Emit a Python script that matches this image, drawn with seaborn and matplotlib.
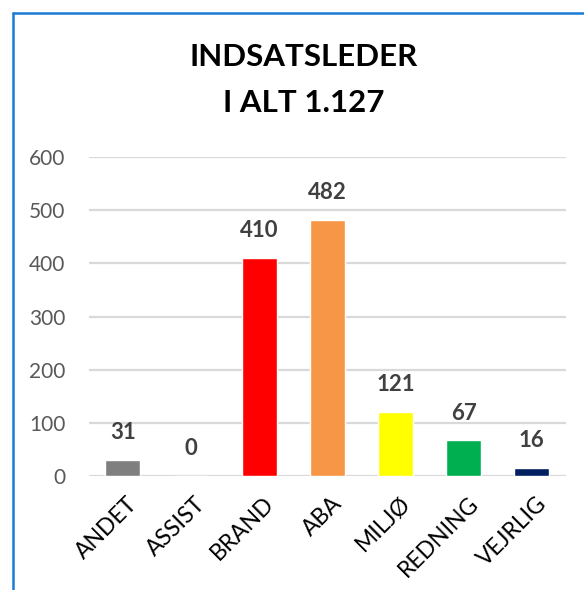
import matplotlib
matplotlib.use("Agg")
import matplotlib.pyplot as plt
import matplotlib.transforms as mtrans
import seaborn as sns
import pandas as pd
from matplotlib.lines import Line2D

# data
categories = ["ANDET", "ASSIST", "BRAND", "ABA", "MILJØ", "REDNING", "VEJRLIG"]
values = [31, 0, 410, 482, 121, 67, 16]
bar_colors = ["#7F7F7F", "#A5A5A5", "#FF0000", "#F79646", "#FFFF00", "#00B050", "#002060"]
title_lines = ["INDSATSLEDER", "I ALT 1.127"]
yticks = [0, 100, 200, 300, 400, 500, 600]

df = pd.DataFrame({"cat": categories, "val": values})

sns.set_theme(style="white")
plt.rcParams["font.family"] = ["Lato", "DejaVu Sans"]

fig = plt.figure(figsize=(5.84, 5.90), dpi=100)
ax = fig.add_axes([0.152, 0.193, 0.817, 0.541])

sns.barplot(data=df, x="cat", y="val", hue="cat", palette=bar_colors,
            legend=False, width=0.51, saturation=1, ax=ax)

for i, v in enumerate(values):
    ax.annotate(str(v), (i, v), xytext=(0, 12), textcoords="offset points",
                ha="center", va="bottom", fontsize=16, fontweight="bold",
                color="#404040")

ax.set_ylim(0, 600)
ax.set_yticks(yticks)
ax.set_xlim(-0.5, len(categories) - 0.5)
ax.yaxis.grid(True, color="#D9D9D9", linewidth=1.6)
ax.set_axisbelow(True)
for s in ax.spines.values():
    s.set_visible(False)
ax.set_xlabel("")
ax.set_ylabel("")
ax.tick_params(axis="y", length=0, labelsize=15, labelcolor="#595959", pad=17)
ax.tick_params(axis="x", length=0, labelsize=16.5, labelcolor="#000000", pad=12)
plt.setp(ax.get_xticklabels(), rotation=45, ha="right", rotation_mode="anchor")
shift = mtrans.ScaledTranslation(4 / 100, 0, fig.dpi_scale_trans)
for lbl in ax.get_xticklabels():
    lbl.set_transform(lbl.get_transform() + shift)

fig.text(0.52, 0.903, title_lines[0], ha="center", va="center",
         fontsize=22.5, fontweight="bold", color="black")
fig.text(0.52, 0.825, title_lines[1], ha="center", va="center",
         fontsize=22.5, fontweight="bold", color="black")

# blue frame (left and top edges visible)
fig.add_artist(Line2D([12.5 / 584, 12.5 / 584], [0, 1 - 12.5 / 590],
                      transform=fig.transFigure, color="#1C7CD5", linewidth=1.8))
fig.add_artist(Line2D([12.5 / 584, 1], [1 - 12.5 / 590, 1 - 12.5 / 590],
                      transform=fig.transFigure, color="#1C7CD5", linewidth=1.8))

fig.savefig("out.png", dpi=100)
